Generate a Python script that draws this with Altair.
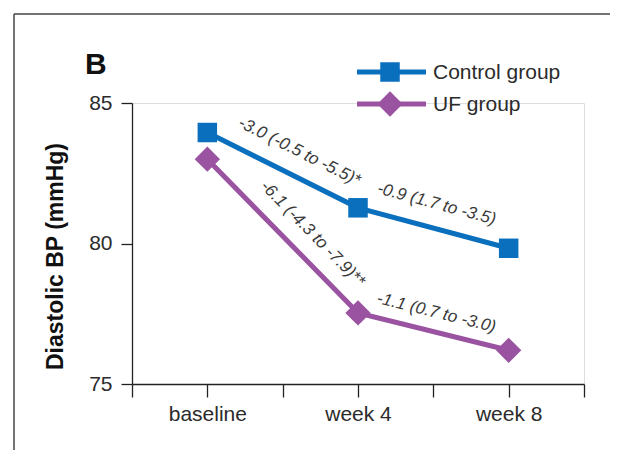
import math
import altair as alt
import pandas as pd

# ---- data ----
weeks = [0, 4, 8]
control = [83.95, 81.27, 79.83]
uf = [83.0, 77.53, 76.2]
groups = ["Control group", "UF group"]
colors = ["#0a6fbd", "#9a53a0"]
shapes = ["square", "diamond"]
point_sizes = [380, 640]
tick_values = [0, 4, 8]
tick_labels = ["baseline", "week 4", "week 8"]
y_ticks = [75, 80, 85]
annotations = ["-3.0 (-0.5 to -5.5)*", "-0.9 (1.7 to -3.5)",
               "-6.1 (-4.3 to -7.9)**", "-1.1 (0.7 to -3.0)"]
panel_label = "B"
y_title = "Diastolic BP (mmHg)"

# ---- layout ----
W, H = 452, 281
PAD = {"left": 124, "top": 95, "right": 26, "bottom": 66}
XDOM = [-2, 10]
YDOM = [75, 85]
FONT = "Liberation Sans"
TXT = "#2b2b2b"

series = {"Control group": control, "UF group": uf}
rows = []
for g in groups:
    for w, v in zip(weeks, series[g]):
        rows.append({"week": w, "value": v, "group": g})
df = pd.DataFrame(rows)

label_expr = "".join(
    f"datum.value == {v} ? '{t}' : " for v, t in zip(tick_values, tick_labels)
) + "''"

x_enc = alt.X(
    "week:Q",
    scale=alt.Scale(domain=XDOM, nice=False, zero=False),
    axis=alt.Axis(values=list(range(XDOM[0], XDOM[1] + 1, 2)), labelExpr=label_expr,
                  title=None, tickSize=13, labelPadding=6, labelFontSize=21,
                  labelFont=FONT, labelColor=TXT, domainColor="#222", tickColor="#222",
                  domainWidth=1.3, tickWidth=1.3, grid=False, labelFlush=False),
)
y_enc = alt.Y(
    "value:Q",
    scale=alt.Scale(domain=YDOM, nice=False, zero=False),
    axis=alt.Axis(values=y_ticks, title=y_title, tickSize=11, labelPadding=9,
                  labelFontSize=21, labelFont=FONT, labelColor=TXT,
                  titleFont=FONT, titleFontSize=23, titleFontWeight="bold",
                  titleColor="#111", titleX=-77, titleY=153, titleBaseline="middle",
                  titleAlign="center", titleAngle=270,
                  domainColor="#222", tickColor="#222", domainWidth=1.3, tickWidth=1.3,
                  grid=False),
)
color_enc = alt.Color("group:N", scale=alt.Scale(domain=groups, range=colors), legend=None)

lines = alt.Chart(df).mark_line(strokeWidth=5).encode(x=x_enc, y=y_enc, color=color_enc)

layers = [lines]
for g, s, sz in zip(groups, shapes, point_sizes):
    layers.append(
        alt.Chart(df).transform_filter(alt.datum.group == g)
        .mark_point(filled=True, opacity=1, shape=s, size=sz)
        .encode(x="week:Q", y="value:Q", color=color_enc)
    )

# annotations along the segments
xs = W / (XDOM[1] - XDOM[0])
ys = H / (YDOM[1] - YDOM[0])
segs = [("Control group", 0), ("Control group", 1), ("UF group", 0), ("UF group", 1)]
fracs = [0.54, 0.48, 0.59, 0.49]
offs = [-24, -24, -23, -19]
for (g, i), txt, f, off in zip(segs, annotations, fracs, offs):
    vals = series[g]
    x0, x1 = weeks[i], weeks[i + 1]
    y0, y1 = vals[i], vals[i + 1]
    ang = math.degrees(math.atan2(-(y1 - y0) * ys, (x1 - x0) * xs))
    adf = pd.DataFrame({"week": [x0 + f * (x1 - x0)], "value": [y0 + f * (y1 - y0)], "t": [txt]})
    layers.append(
        alt.Chart(adf).mark_text(angle=ang, dy=off, fontSize=17, fontStyle="italic",
                                 font=FONT, color="#3a3a3a", baseline="middle", align="center")
        .encode(x="week:Q", y="value:Q", text="t:N")
    )

# manual legend
leg_y = [-31, 1]
for g, c, s, sz, ly in zip(groups, colors, shapes, point_sizes, leg_y):
    ldf = pd.DataFrame({"group": [g]})
    layers.append(alt.Chart(ldf).mark_rule(color=c, strokeWidth=5).encode(
        x=alt.value(225), x2=alt.value(294), y=alt.value(ly)))
    layers.append(alt.Chart(ldf).mark_point(filled=True, opacity=1, shape=s, size=sz, color=c)
                  .encode(x=alt.value(258), y=alt.value(ly)))
    layers.append(alt.Chart(ldf).mark_text(align="left", baseline="middle", fontSize=21,
                                           font=FONT, color=TXT)
                  .encode(x=alt.value(301), y=alt.value(ly + 1), text="group:N"))

# panel letter
pdf = pd.DataFrame({"t": [panel_label]})
layers.append(alt.Chart(pdf).mark_text(align="left", baseline="alphabetic", fontSize=30,
                                       fontWeight="bold", font=FONT, color="#111")
              .encode(x=alt.value(-47), y=alt.value(-29), text="t:N"))

# outer frame lines (top and left)
layers.append(alt.Chart(pdf).mark_rule(color="#444", strokeWidth=1.5).encode(
    x=alt.value(-118), x2=alt.value(W + PAD["right"]), y=alt.value(-89)))
layers.append(alt.Chart(pdf).mark_rule(color="#444", strokeWidth=1.5).encode(
    x=alt.value(-118), y=alt.value(-89), y2=alt.value(H + PAD["bottom"])))

chart = alt.layer(*layers).properties(
    width=W, height=H, autosize=alt.AutoSizeParams(type="none"), padding=PAD
).configure_view(stroke=None).configure(background="white")

chart.save("out.html", embed_options={"renderer": "svg", "actions": False})
